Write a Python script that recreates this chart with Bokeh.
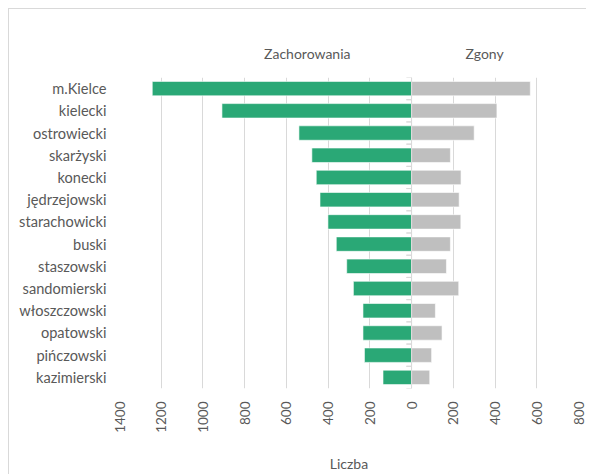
from bokeh.plotting import figure
from bokeh.layouts import column
from bokeh.models import (Range1d, FactorRange, FixedTicker, CustomJSTickFormatter,
                          LinearAxis, ColumnDataSource)
from bokeh.transform import dodge
from bokeh.embed import file_html
from bokeh.resources import INLINE

# ---- data ----
powiaty = ["m.Kielce", "kielecki", "ostrowiecki", "skarżyski", "konecki", "jędrzejowski",
           "starachowicki", "buski", "staszowski", "sandomierski", "włoszczowski",
           "opatowski", "pińczowski", "kazimierski"]
zachorowania = [1243, 909, 540, 478, 457, 439, 401, 361, 311, 279, 233, 233, 226, 137]
zgony = [569, 409, 300, 186, 237, 228, 236, 186, 167, 226, 114, 146, 96, 87]
x_ticks = [-1400, -1200, -1000, -800, -600, -400, -200, 0, 200, 400, 600, 800]
series_names = ["Zachorowania", "Zgony"]
axis_title = "Liczba"

FONT = "Lato"
TXT = "#595959"
GREEN = "#2aa876"
GRAY = "#bfbfbf"
GRID = "#d9d9d9"

src = ColumnDataSource(dict(
    cat=powiaty,
    left=[-v for v in zachorowania],
    right=zgony,
    zero=[0] * len(powiaty),
))

p = figure(width=577, height=465, output_backend="svg", toolbar_location=None,
           x_range=Range1d(x_ticks[0], x_ticks[-1]),
           y_range=FactorRange(*list(reversed(powiaty)), range_padding=0),
           min_border_left=110, min_border_right=8, min_border_top=68,
           min_border_bottom=86)
p.outline_line_color = None
p.background_fill_color = "white"
p.border_fill_color = "white"

p.hbar(y="cat", left="left", right="zero", height=0.65, source=src,
       fill_color=GREEN, line_color="#ffffff", line_width=0.6)
p.hbar(y="cat", left="zero", right="right", height=0.65, source=src,
       fill_color=GRAY, line_color="#ffffff", line_width=0.6)

# zero (category) axis line with small ticks at category boundaries
p.segment(x0=0, x1=0, y0=dodge("cat", -0.5, range=p.y_range),
          y1=dodge("cat", 0.5, range=p.y_range), source=src,
          line_color=GRID, line_width=1)
p.segment(x0=-25, x1=0, y0=dodge("cat", -0.5, range=p.y_range),
          y1=dodge("cat", -0.5, range=p.y_range), source=src,
          line_color=GRID, line_width=1)
p.segment(x0=-25, x1=0, y0=dodge("cat", 0.5, range=p.y_range),
          y1=dodge("cat", 0.5, range=p.y_range), source=src,
          line_color=GRID, line_width=1)

# x axis
xa = p.xaxis[0]
xa.ticker = FixedTicker(ticks=x_ticks)
xa.formatter = CustomJSTickFormatter(code="return String(Math.abs(tick));")
xa.major_label_orientation = 1.5707963
xa.axis_line_color = None
xa.major_tick_line_color = None
xa.minor_tick_line_color = None
xa.major_label_standoff = 7
xa.major_label_text_font = FONT
xa.major_label_text_font_size = "13.5px"
xa.major_label_text_color = TXT
xa.axis_label = axis_title
xa.axis_label_text_font = FONT
xa.axis_label_text_font_size = "14px"
xa.axis_label_text_font_style = "normal"
xa.axis_label_text_color = TXT
xa.axis_label_standoff = 19

# series titles as a label axis above the frame
ta = LinearAxis(ticker=FixedTicker(ticks=[-500, 350]),
                major_label_overrides={-500: series_names[0], 350: series_names[1]},
                axis_line_color=None, major_tick_line_color=None,
                minor_tick_line_color=None, major_label_standoff=10,
                major_label_text_font=FONT, major_label_text_font_size="14px",
                major_label_text_color=TXT)
p.add_layout(ta, "above")

# y axis
ya = p.yaxis[0]
ya.axis_line_color = None
ya.major_tick_line_color = None
ya.minor_tick_line_color = None
ya.major_label_standoff = 7
ya.major_label_text_font = FONT
ya.major_label_text_font_size = "14.6px"
ya.major_label_text_color = TXT

p.xgrid.ticker = FixedTicker(ticks=x_ticks)
p.xgrid.grid_line_color = GRID
p.xgrid.grid_line_width = 1
p.ygrid.grid_line_color = None

layout = column(p, styles={"margin-left": "8px", "margin-top": "8px",
                           "border-top": "1.5px solid #d9d9d9",
                           "border-left": "1.5px solid #d9d9d9"})

open("out.html", "w").write(file_html(layout, INLINE))
